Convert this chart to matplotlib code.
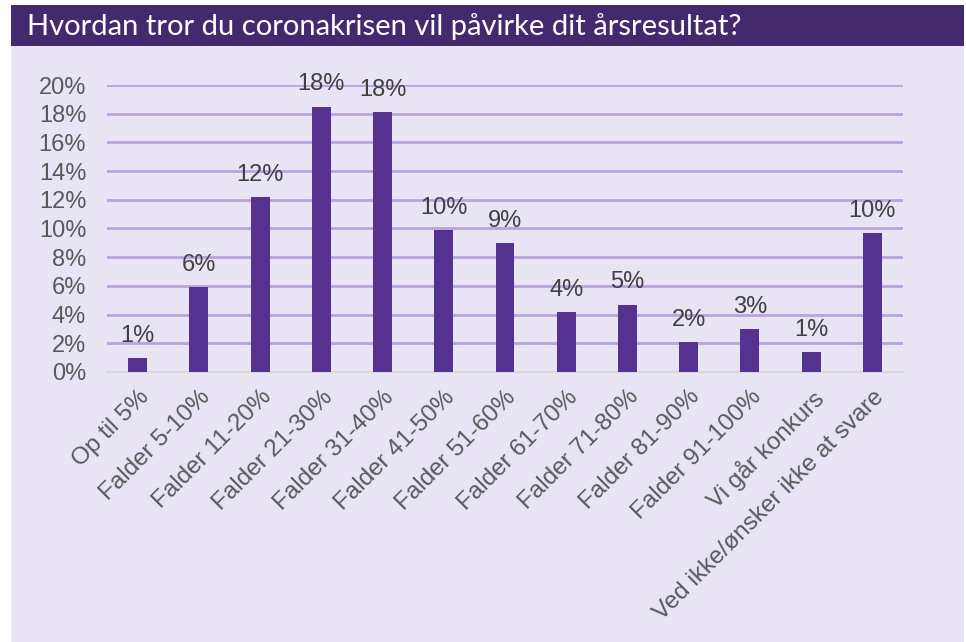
import matplotlib
matplotlib.use("Agg")
import matplotlib.pyplot as plt
from matplotlib.patches import Rectangle
from matplotlib.ticker import FuncFormatter

title = "Hvordan tror du coronakrisen vil påvirke dit årsresultat?"
categories = ["Op til 5%", "Falder 5-10%", "Falder 11-20%", "Falder 21-30%",
              "Falder 31-40%", "Falder 41-50%", "Falder 51-60%", "Falder 61-70%",
              "Falder 71-80%", "Falder 81-90%", "Falder 91-100%", "Vi går konkurs",
              "Ved ikke/ønsker ikke at svare"]
values = [0.010, 0.059, 0.122, 0.185, 0.181, 0.099, 0.090, 0.042,
          0.047, 0.021, 0.030, 0.014, 0.097]
labels = ["1%", "6%", "12%", "18%", "18%", "10%", "9%", "4%", "5%", "2%", "3%", "1%", "10%"]
yticks = [0, 0.02, 0.04, 0.06, 0.08, 0.10, 0.12, 0.14, 0.16, 0.18, 0.20]

plt.rcParams["font.family"] = ["Liberation Sans", "DejaVu Sans"]

W, H = 966, 642
fig = plt.figure(figsize=(W / 100, H / 100), dpi=100)
fig.patch.set_facecolor("white")

bg = "#E8E4F4"
fig.add_artist(Rectangle((11 / W, 0), (964 - 11) / W, (H - 46) / H,
                         transform=fig.transFigure, facecolor=bg, edgecolor="none", zorder=0))
fig.add_artist(Rectangle((11 / W, (H - 46) / H), (964 - 11) / W, 41 / H,
                         transform=fig.transFigure, facecolor="#432A6E", edgecolor="none", zorder=0))
fig.text(27 / W, (H - 27) / H, title, color="white", fontsize=21,
         family=["Lato", "DejaVu Sans"], va="center", ha="left")

ax = fig.add_axes([107 / W, 1 - 372 / H, (903 - 107) / W, (372 - 85) / H])
ax.set_facecolor("none")
x = list(range(len(categories)))
ax.bar(x, values, width=0.31, color="#55328F", zorder=3)
for xi, v, lab in zip(x, values, labels):
    ax.annotate(lab, (xi, v), xytext=(0, 8), textcoords="offset points",
                ha="center", va="bottom", fontsize=17, color="#404040")

ax.set_xlim(-0.5, len(categories) - 0.5)
ax.set_ylim(0, 0.2)
ax.set_yticks(yticks)
ax.yaxis.set_major_formatter(FuncFormatter(lambda v, p: f"{v*100:.0f}%"))
ax.grid(axis="y", color="#B9A3DC", linewidth=2, zorder=0)
ax.set_axisbelow(True)
for s in ["top", "right", "left"]:
    ax.spines[s].set_visible(False)
ax.spines["bottom"].set_color("#D9D9D9")
ax.spines["bottom"].set_linewidth(1.5)
ax.spines["bottom"].set_zorder(2)
ax.tick_params(axis="both", length=0, labelsize=17, labelcolor="#595959")
ax.tick_params(axis="y", pad=15)
ax.set_xticks(x)
ax.set_xticklabels(categories, rotation=45, ha="right", rotation_mode="anchor")
ax.tick_params(axis="x", pad=10, labelsize=17.5)

fig.savefig("out.png", dpi=100, facecolor="white")
